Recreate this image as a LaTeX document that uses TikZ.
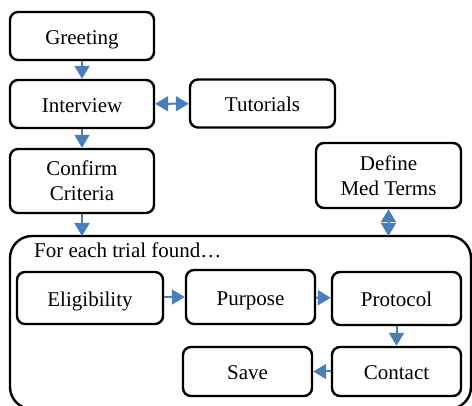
\documentclass[tikz,border=0pt]{standalone}
\usepackage{fontspec}
\setmainfont{Liberation Serif}
\usetikzlibrary{arrows.meta}
\definecolor{arrowblue}{RGB}{74,126,187}
\begin{document}
\begin{tikzpicture}[x=1pt, y=-1pt,
    box/.style={draw, line width=2.4pt, rounded corners=8pt, align=center,
      inner sep=0pt, font=\fontsize{21}{25}\selectfont},
    oneline/.style={box, text height=17pt, text depth=0pt},
    link/.style={arrowblue, line width=2pt, -{Triangle[length=13pt,width=15pt]}},
    twolink/.style={arrowblue, line width=2pt,
      {Triangle[length=13pt,width=15pt]}-{Triangle[length=13pt,width=15pt]}}]
  \clip (0,0) rectangle (472,406);
  % loop over the trials
  \draw [line width=2.4pt, rounded corners=22pt] (10,236) rectangle (471,409);
  \coordinate (looptop) at (82,236);
  \coordinate (loopright) at (388.5,236);
  \node [anchor=base west, inner sep=0pt, font=\fontsize{21}{25}\selectfont] (looplabel) at (34,258) {For each trial found…};
  % main steps
  \node [oneline, minimum width=144pt, minimum height=48pt] (greeting) at (82,36) {Greeting};
  \node [oneline, minimum width=144pt, minimum height=48pt] (interview) at (82,104) {Interview};
  \node [oneline, minimum width=145pt, minimum height=48pt] (tutorials) at (262.5,103.5) {Tutorials};
  \node [box, minimum width=144pt, minimum height=64pt] (confirm) at (82,181) {Confirm\\Criteria};
  \node [box, minimum width=145pt, minimum height=65pt] (define) at (388.5,175.5) {Define\\Med Terms};
  % steps for one trial
  \node [oneline, minimum width=146pt, minimum height=52pt] (eligibility) at (90,298) {Eligibility};
  \node [oneline, minimum width=129pt, minimum height=54pt] (purpose) at (250.5,297) {Purpose};
  \node [oneline, minimum width=129pt, minimum height=53pt] (protocol) at (396.5,298.5) {Protocol};
  \node [oneline, minimum width=129pt, minimum height=49pt] (contact) at (396.5,371.5) {Contact};
  \node [oneline, minimum width=129pt, minimum height=49pt] (save) at (247.5,371.5) {Save};
  % arrows
  \draw [link] (greeting) -- (interview);
  \draw [twolink] (interview) -- (tutorials);
  \draw [link] (interview) -- (confirm);
  \draw [link] (confirm) -- (looptop);
  \draw [twolink] (define) -- (loopright);
  \draw [link] (eligibility.east |- purpose) -- (purpose);
  \draw [link] (purpose) -- (protocol);
  \draw [link] (protocol) -- (contact);
  \draw [link] (contact) -- (save);
\end{tikzpicture}
\end{document}
